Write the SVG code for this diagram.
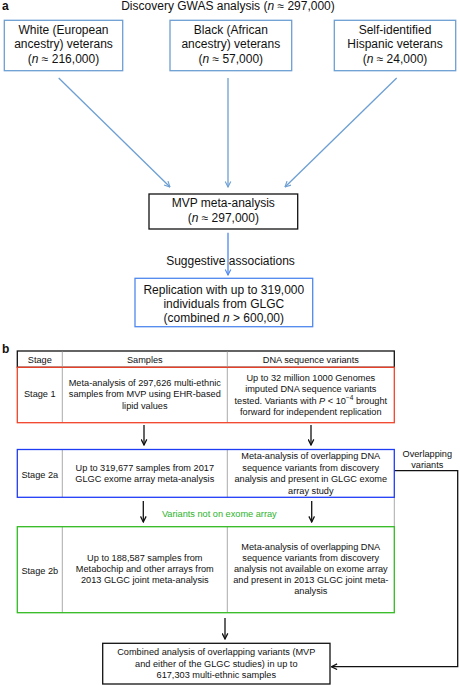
<svg xmlns="http://www.w3.org/2000/svg" width="460" height="685" viewBox="0 0 460 685">
<defs>
<style>
text{font-family:"Liberation Sans",Arial,sans-serif;fill:#111}
.a{font-size:12px;text-anchor:middle}
.b{font-size:9.2px;text-anchor:middle}
.lbl{font-size:12px;font-weight:bold}
.bx{fill:#fff;stroke:#6d9fd3;stroke-width:1.3}
.bk{fill:#fff;stroke:#111;stroke-width:1.3}
.bb{fill:#fff;stroke:#4f88ee;stroke-width:1.3}
.ln{stroke:#6d9fd3;stroke-width:1.3;fill:none}
.ln2{stroke:#4f88ee;stroke-width:1.3;fill:none}
.bl{stroke:#111;stroke-width:1.3;fill:none}
.gr{stroke:#aaa;stroke-width:1;fill:none}
</style>
<marker id="ma" viewBox="0 0 10 10" refX="9" refY="5" markerWidth="7" markerHeight="7" orient="auto" markerUnits="userSpaceOnUse"><path d="M1,1 L9,5 L1,9" fill="none" stroke="#6d9fd3" stroke-width="1.6"/></marker>
<marker id="mb" viewBox="0 0 10 10" refX="9" refY="5" markerWidth="7" markerHeight="7" orient="auto" markerUnits="userSpaceOnUse"><path d="M1,1 L9,5 L1,9" fill="none" stroke="#4f88ee" stroke-width="1.6"/></marker>
<marker id="mk" viewBox="0 0 10 10" refX="9" refY="5" markerWidth="7" markerHeight="7" orient="auto" markerUnits="userSpaceOnUse"><path d="M1,1 L9,5 L1,9" fill="none" stroke="#111" stroke-width="1.8"/></marker>
</defs>
<rect width="460" height="685" fill="#fff"/>

<text class="lbl" x="2" y="10">a</text>
<text class="a" x="228" y="10">Discovery GWAS analysis (<tspan font-style="italic">n</tspan> ≈ 297,000)</text>

<g id="connectors">
<line class="ln" x1="58.7" y1="78" x2="170" y2="187" marker-end="url(#ma)"/>
<line class="ln" x1="228" y1="78" x2="228" y2="187" marker-end="url(#ma)"/>
<line class="ln" x1="396.7" y1="78" x2="285" y2="187" marker-end="url(#ma)"/>
<line class="ln2" x1="228" y1="232.7" x2="228" y2="275" marker-end="url(#mb)"/>
<line class="bl" x1="144" y1="425" x2="144" y2="445" marker-end="url(#mk)"/>
<line class="bl" x1="311" y1="425" x2="311" y2="445" marker-end="url(#mk)"/>
<line class="bl" x1="143.3" y1="501" x2="143.3" y2="522" marker-end="url(#mk)"/>
<line class="bl" x1="311.7" y1="501" x2="311.7" y2="522" marker-end="url(#mk)"/>
<line class="bl" x1="225" y1="618" x2="225" y2="639" marker-end="url(#mk)"/>
<polyline class="bl" points="394.3,470.7 457.7,470.7 457.7,666.7 331.5,666.7" marker-end="url(#mk)"/>
<line class="gr" x1="394.3" y1="497.3" x2="394.3" y2="526.7"/>
</g>

<g id="white">
<rect class="bx" x="4.3" y="20.3" width="118.4" height="50.4"/>
<text class="a" x="63.5" y="34">White (European</text>
<text class="a" x="63.5" y="48.3">ancestry) veterans</text>
<text class="a" x="63.5" y="62.5">(<tspan font-style="italic">n</tspan> ≈ 216,000)</text>
</g>
<g id="black">
<rect class="bx" x="170" y="20.3" width="121.7" height="50.4"/>
<text class="a" x="230.8" y="34">Black (African</text>
<text class="a" x="230.8" y="48.3">ancestry) veterans</text>
<text class="a" x="230.8" y="62.5">(<tspan font-style="italic">n</tspan> ≈ 57,000)</text>
</g>
<g id="hispanic">
<rect class="bx" x="334.3" y="20.3" width="121.4" height="50.4"/>
<text class="a" x="395" y="34">Self-identified</text>
<text class="a" x="395" y="48.3">Hispanic veterans</text>
<text class="a" x="395" y="62.5">(<tspan font-style="italic">n</tspan> ≈ 24,000)</text>
</g>
<g id="mvp">
<rect class="bk" x="149" y="194" width="148.7" height="35"/>
<text class="a" x="223.3" y="207">MVP meta-analysis</text>
<text class="a" x="223.3" y="222">(<tspan font-style="italic">n</tspan> ≈ 297,000)</text>
</g>
<text class="a" x="230.5" y="265">Suggestive associations</text>
<g id="replication">
<rect class="bb" x="135" y="278.3" width="177.7" height="48.4"/>
<text class="a" x="223.8" y="293.5">Replication with up to 319,000</text>
<text class="a" x="223.8" y="308">individuals from GLGC</text>
<text class="a" x="223.8" y="322">(combined <tspan font-style="italic">n</tspan> &gt; 600,00)</text>
</g>

<text class="lbl" x="2" y="353">b</text>
<g id="header">
<rect x="17.3" y="351" width="377" height="16.3" fill="#fff" stroke="#111" stroke-width="1.3"/>
<line class="gr" x1="62.3" y1="351.6" x2="62.3" y2="367"/>
<line class="gr" x1="227.3" y1="351.6" x2="227.3" y2="367"/>
<text class="b" x="39.8" y="362.5">Stage</text>
<text class="b" x="144.8" y="362.5">Samples</text>
<text class="b" x="310.8" y="362.5">DNA sequence variants</text>
</g>
<g id="stage1">
<line class="gr" x1="62.3" y1="367.3" x2="62.3" y2="422.7"/>
<line class="gr" x1="227.3" y1="367.3" x2="227.3" y2="422.7"/>
<rect x="17.3" y="367.3" width="377" height="55.4" fill="none" stroke="#f2432a" stroke-width="1.3"/>
<text class="b" x="39.8" y="397.3">Stage 1</text>
<text class="b" x="144.8" y="386">Meta-analysis of 297,626 multi-ethnic</text>
<text class="b" x="144.8" y="397.3">samples from MVP using EHR-based</text>
<text class="b" x="144.8" y="408.5">lipid values</text>
<text class="b" x="310.8" y="380.5">Up to 32 million 1000 Genomes</text>
<text class="b" x="310.8" y="392">imputed DNA sequence variants</text>
<text class="b" x="310.8" y="403.5">tested. Variants with <tspan font-style="italic">P</tspan> &lt; 10<tspan font-size="6.5px" dy="-3.5">−4</tspan><tspan dy="3.5"> brought</tspan></text>
<text class="b" x="310.8" y="414.5">forward for independent replication</text>
</g>
<g id="stage2a">
<line class="gr" x1="62.3" y1="449.5" x2="62.3" y2="497.3"/>
<line class="gr" x1="227.3" y1="449.5" x2="227.3" y2="497.3"/>
<rect x="17.3" y="449.5" width="377" height="47.8" fill="none" stroke="#1f3cf5" stroke-width="1.3"/>
<text class="b" x="39.8" y="477.6">Stage 2a</text>
<text class="b" x="144.8" y="470.6">Up to 319,677 samples from 2017</text>
<text class="b" x="144.8" y="482.3">GLGC exome array meta-analysis</text>
<text class="b" x="310.8" y="459.3">Meta-analysis of overlapping DNA</text>
<text class="b" x="310.8" y="470.6">sequence variants from discovery</text>
<text class="b" x="310.8" y="482.3">analysis and present in GLGC exome</text>
<text class="b" x="310.8" y="493.5">array study</text>
</g>
<text class="b" x="427.3" y="456.8">Overlapping</text>
<text class="b" x="427.3" y="467.5">variants</text>
<text class="b" x="219.3" y="517.3" style="fill:#2cb32c">Variants not on exome array</text>
<g id="stage2b">
<line class="gr" x1="62.3" y1="526.7" x2="62.3" y2="612.7"/>
<line class="gr" x1="227.3" y1="526.7" x2="227.3" y2="612.7"/>
<rect x="17.3" y="526.7" width="377" height="86" fill="none" stroke="#33bb22" stroke-width="1.3"/>
<text class="b" x="39.8" y="574">Stage 2b</text>
<text class="b" x="144.8" y="560.6">Up to 188,587 samples from</text>
<text class="b" x="144.8" y="572.3">Metabochip and other arrays from</text>
<text class="b" x="144.8" y="583">2013 GLGC joint meta-analysis</text>
<text class="b" x="310.8" y="550">Meta-analysis of overlapping DNA</text>
<text class="b" x="310.8" y="560.6">sequence variants from discovery</text>
<text class="b" x="310.8" y="572.3">analysis not available on exome array</text>
<text class="b" x="310.8" y="583">and present in 2013 GLGC joint meta-</text>
<text class="b" x="310.8" y="594.3">analysis</text>
</g>
<g id="combined">
<rect class="bk" x="102.7" y="643.3" width="227.3" height="40.7"/>
<text class="b" x="216.3" y="655">Combined analysis of overlapping variants (MVP</text>
<text class="b" x="216.3" y="666.6">and either of the GLGC studies) in up to</text>
<text class="b" x="216.3" y="677.8">617,303 multi-ethnic samples</text>
</g>
</svg>
